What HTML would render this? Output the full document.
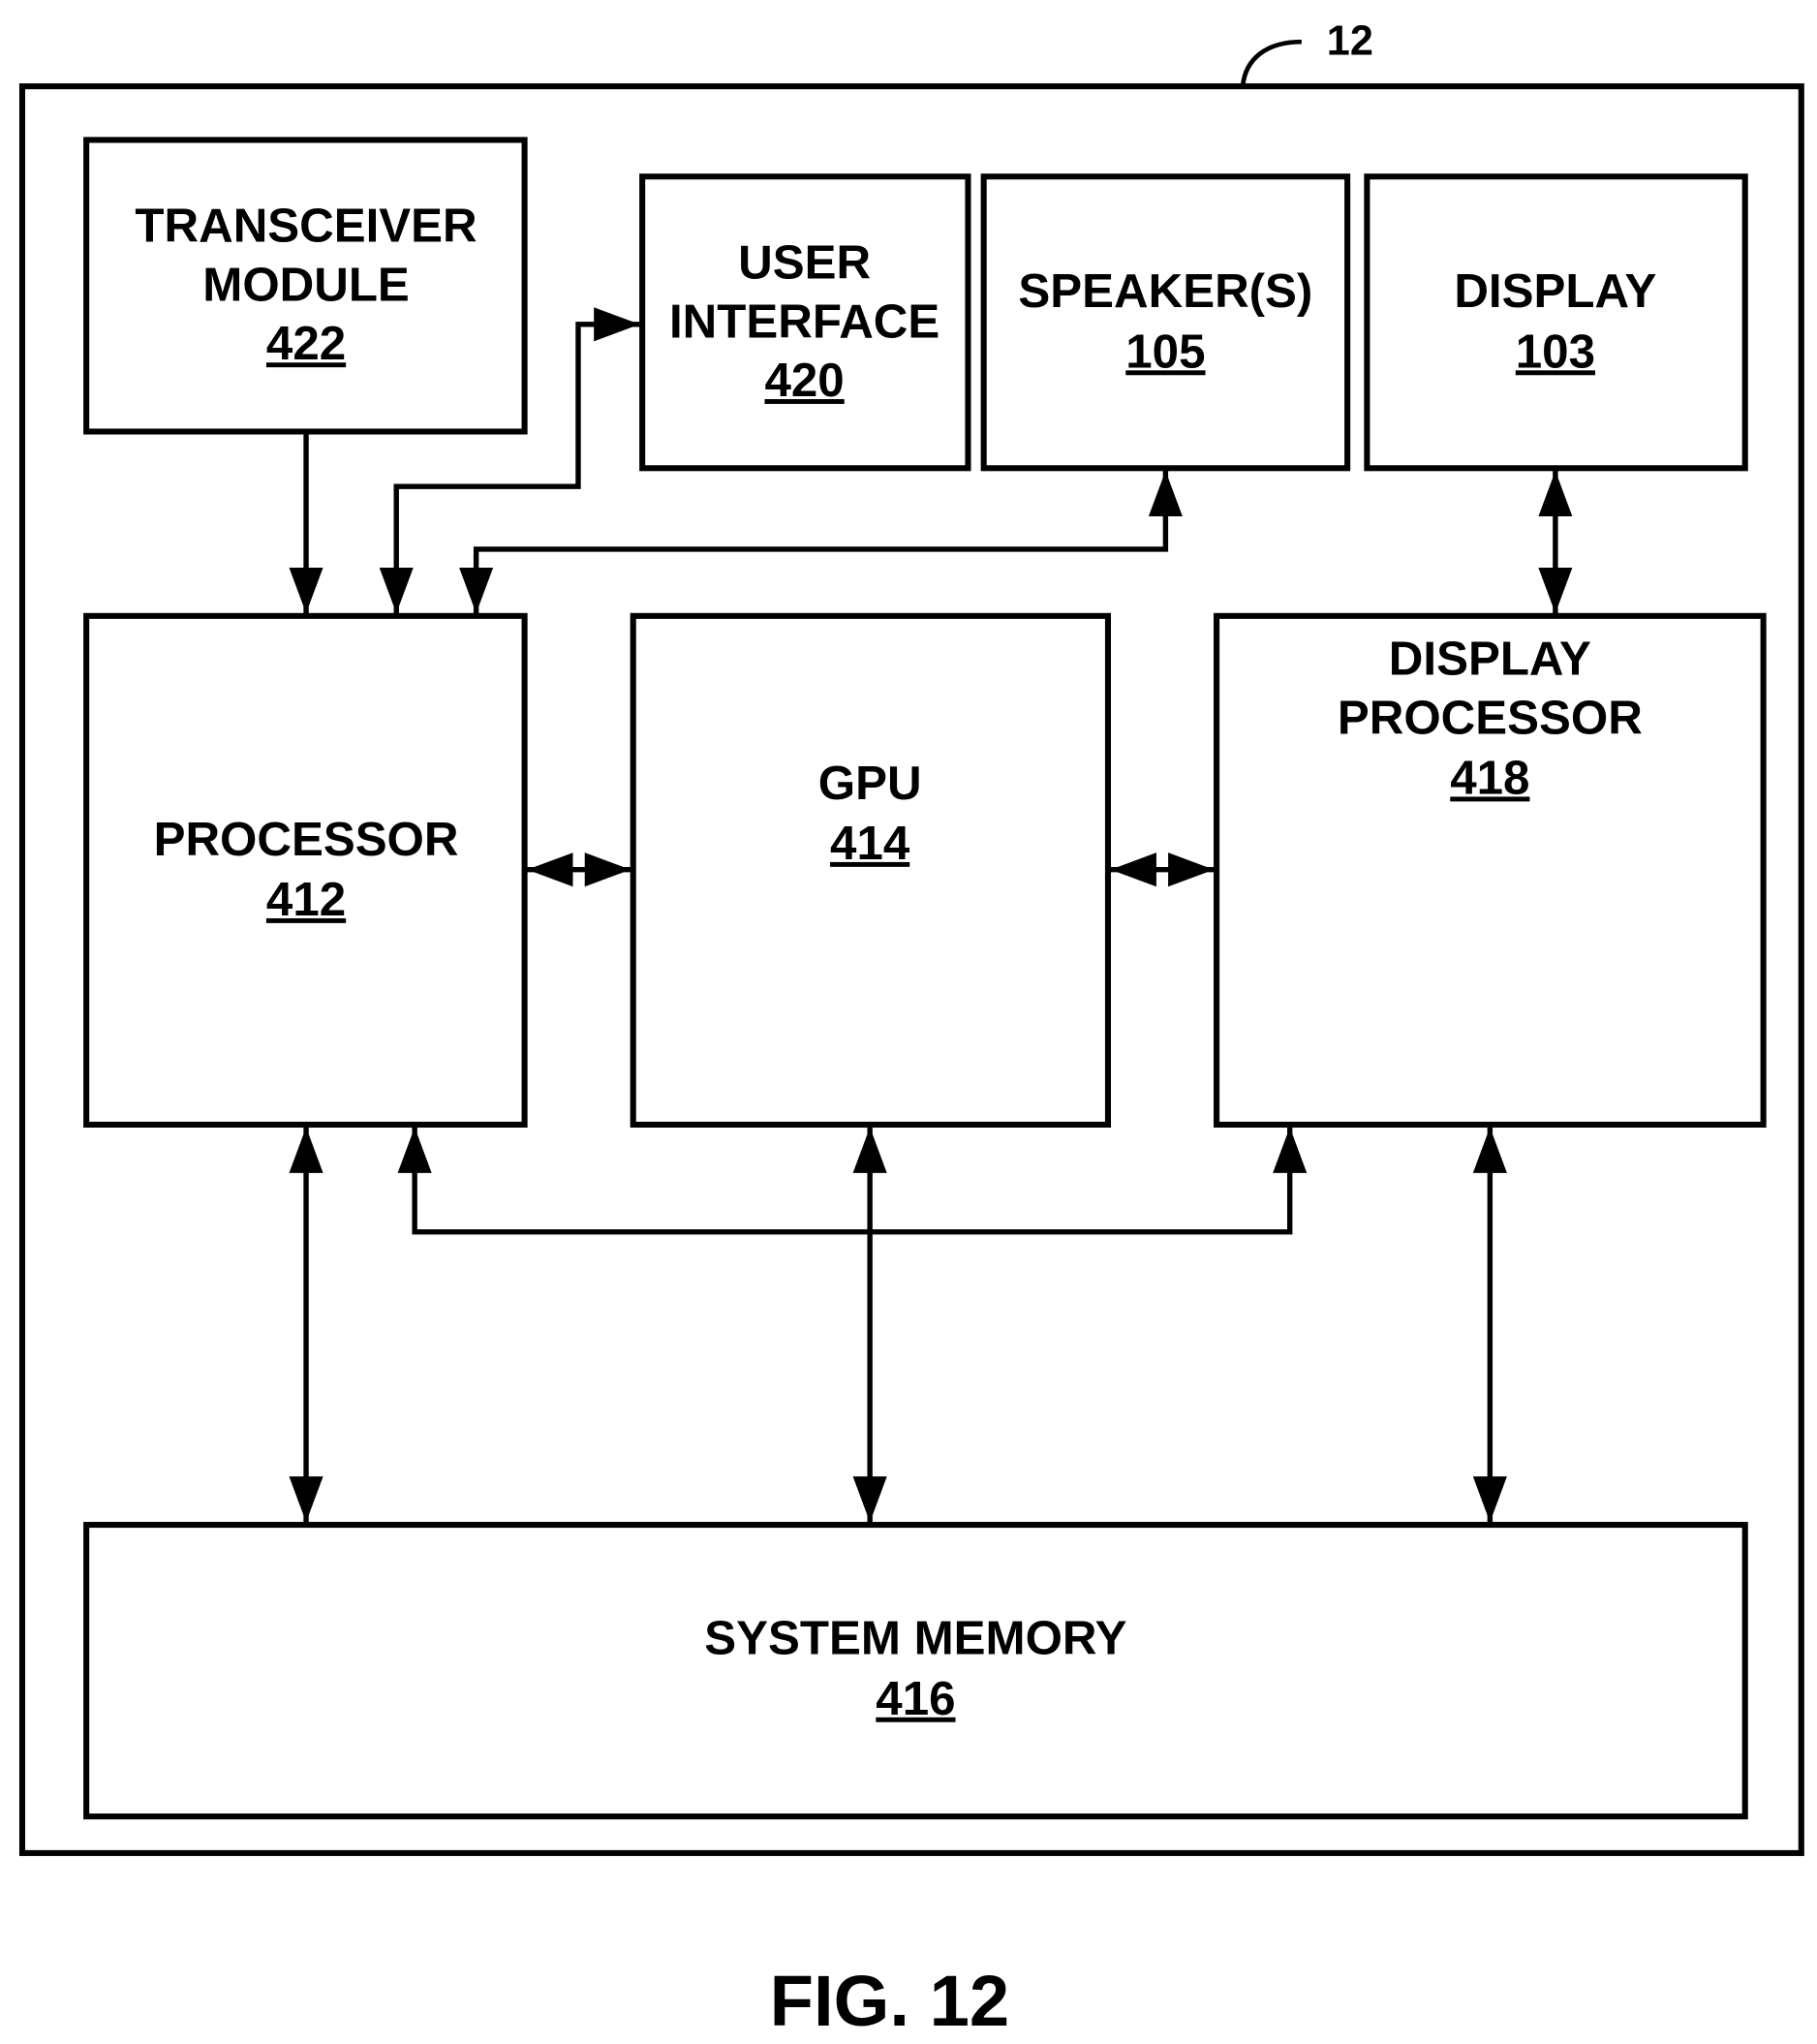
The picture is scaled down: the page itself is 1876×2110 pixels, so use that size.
<!DOCTYPE html>
<html><head><style>
html,body{margin:0;padding:0;background:#fff;}
svg{display:block;}
text{font-family:"Liberation Sans",Arial,sans-serif;font-weight:bold;font-size:36.5px;fill:#000;text-anchor:middle;}
</style></head><body>
<svg width="1876" height="2110" viewBox="0 0 1389 1563" preserveAspectRatio="none" xmlns="http://www.w3.org/2000/svg">
<defs>
<marker id="a" viewBox="0 0 35 26" refX="35" refY="13" markerWidth="35" markerHeight="26" markerUnits="userSpaceOnUse" orient="auto-start-reverse">
<path d="M0,0 L35,13 L0,26 Z" fill="#000"/>
</marker>
</defs>
<g fill="none" stroke="#000" stroke-width="4.5">
<rect x="17" y="66" width="1360" height="1351"/>
<rect x="66" y="107" width="335" height="223"/>
<rect x="491" y="135" width="249" height="223"/>
<rect x="752" y="135" width="278" height="223"/>
<rect x="1045" y="135" width="289" height="223"/>
<rect x="66" y="471" width="335" height="389"/>
<rect x="484" y="471" width="363" height="389"/>
<rect x="930" y="471" width="418" height="389"/>
<rect x="66" y="1166" width="1268" height="223"/>
<path d="M950,66 C952,45 968,32 995,32" stroke-width="3.5"/>
</g>
<g fill="none" stroke="#000" stroke-width="4">
<path d="M234,332 L234,469" marker-end="url(#a)"/>
<path d="M303,469 L303,372 L442,372 L442,248 L489,248" marker-start="url(#a)" marker-end="url(#a)"/>
<path d="M364,469 L364,420 L891,420 L891,360" marker-start="url(#a)" marker-end="url(#a)"/>
<path d="M1189,360 L1189,469" marker-start="url(#a)" marker-end="url(#a)"/>
<path d="M403,665 L482,665" marker-start="url(#a)" marker-end="url(#a)"/>
<path d="M849,665 L928,665" marker-start="url(#a)" marker-end="url(#a)"/>
<path d="M234,862 L234,1164" marker-start="url(#a)" marker-end="url(#a)"/>
<path d="M317,862 L317,942 L986,942 L986,862" marker-start="url(#a)" marker-end="url(#a)"/>
<path d="M665,862 L665,1164" marker-start="url(#a)" marker-end="url(#a)"/>
<path d="M1139,862 L1139,1164" marker-start="url(#a)" marker-end="url(#a)"/>
</g>
<text x="1032" y="42" style="font-size:32px">12</text>
<text x="234" y="185">TRANSCEIVER</text>
<text x="234" y="230">MODULE</text>
<text x="234" y="275" text-decoration="underline">422</text>
<text x="615" y="213">USER</text>
<text x="615" y="258">INTERFACE</text>
<text x="615" y="303" text-decoration="underline">420</text>
<text x="891" y="235">SPEAKER(S)</text>
<text x="891" y="281" text-decoration="underline">105</text>
<text x="1189" y="235">DISPLAY</text>
<text x="1189" y="281" text-decoration="underline">103</text>
<text x="234" y="654">PROCESSOR</text>
<text x="234" y="700" text-decoration="underline">412</text>
<text x="665" y="611">GPU</text>
<text x="665" y="657" text-decoration="underline">414</text>
<text x="1139" y="516">DISPLAY</text>
<text x="1139" y="561">PROCESSOR</text>
<text x="1139" y="607" text-decoration="underline">418</text>
<text x="700" y="1265">SYSTEM MEMORY</text>
<text x="700" y="1311" text-decoration="underline">416</text>
<text x="680" y="1549" style="font-size:55px">FIG. 12</text>
</svg>
</body></html>
